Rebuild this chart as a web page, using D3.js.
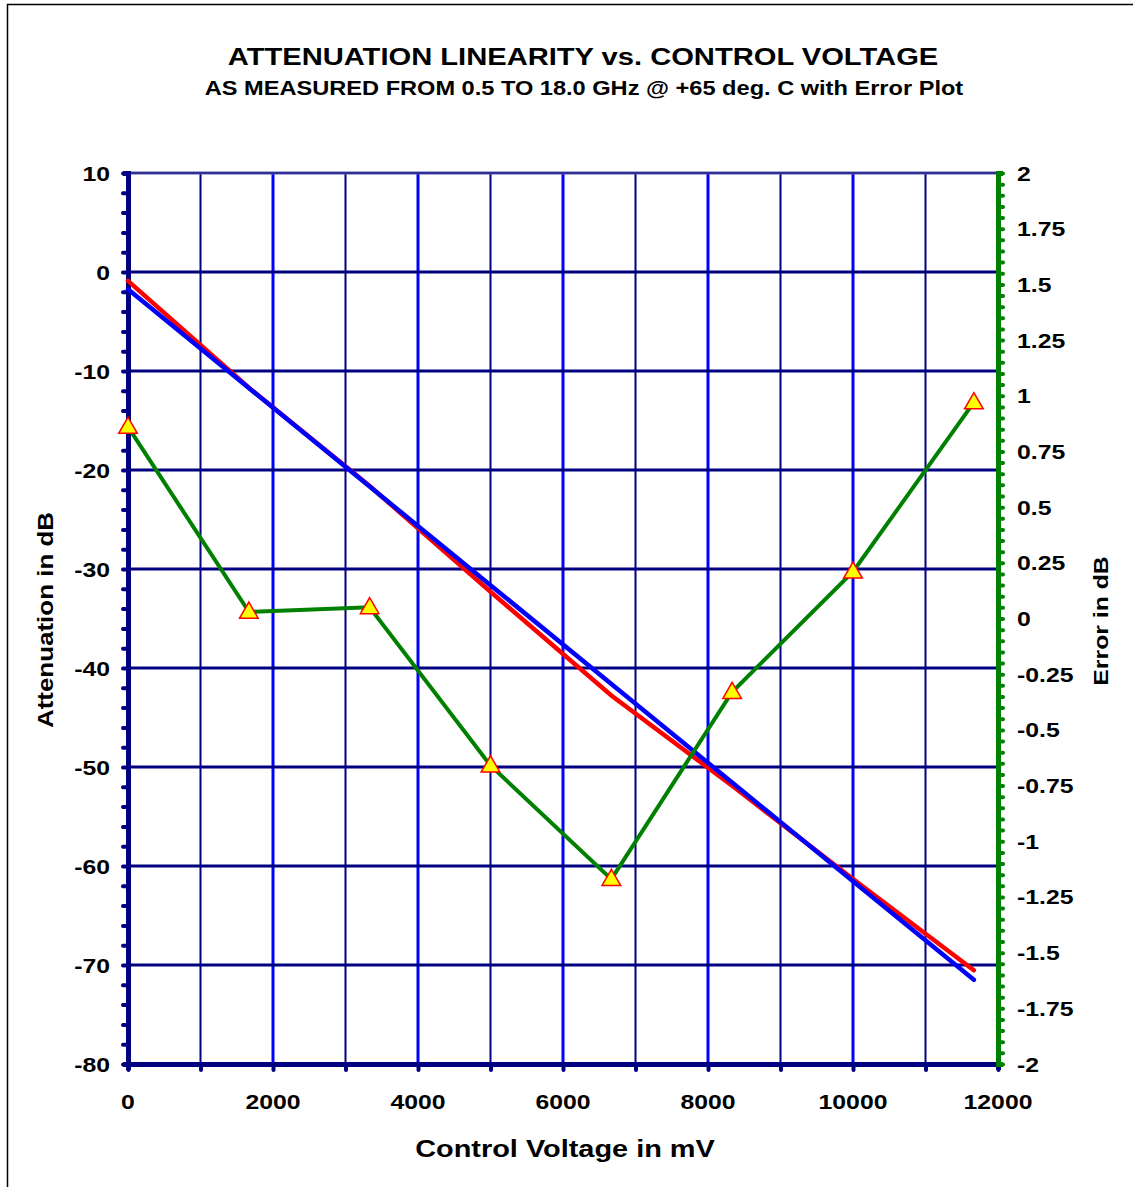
<!DOCTYPE html>
<html>
<head>
<meta charset="utf-8">
<script src="https://cdn.jsdelivr.net/npm/d3@7"></script>
<style>
  html, body { margin: 0; padding: 0; background: #fff; }
  svg text { font-family: "Liberation Sans", Arial, sans-serif; font-weight: bold; fill: #000; }
</style>
</head>
<body>
<svg id="chart" width="1133" height="1187"></svg>
<script>
// Control voltage steps (mV)
const voltage = [0, 1667, 3333, 5000, 6667, 8333, 10000, 11667];
// Measured attenuation (dB)
const measured = [-0.89, -11.69, -21.62, -32.30, -42.78, -51.90, -61.32, -70.53];
// Best-fit straight line (dB)
const fitted = [-1.75, -11.72, -21.67, -31.64, -41.61, -51.57, -61.53, -71.50];
// Linearity error (dB)
const errorDb = [0.86, 0.03, 0.05, -0.66, -1.17, -0.33, 0.21, 0.97];

const xTicks = [0, 2000, 4000, 6000, 8000, 10000, 12000];
const yLeftTicks = [10, 0, -10, -20, -30, -40, -50, -60, -70, -80];
const yRightTicks = [2, 1.75, 1.5, 1.25, 1, 0.75, 0.5, 0.25, 0, -0.25, -0.5, -0.75, -1, -1.25, -1.5, -1.75, -2];

const svg = d3.select("#chart");
const L = 128, R = 998, T = 173, B = 1064;

const x = d3.scaleLinear().domain([0, 12000]).range([L, R]);
const yL = d3.scaleLinear().domain([-80, 10]).range([B, T]);
const yR = d3.scaleLinear().domain([-2, 2]).range([B, T]);

const navy = "#000080";
const SX = 1.18; // horizontal stretch of all lettering

// text helper: wide bold lettering placed at (px, py), optionally rotated
function label(parent, px, py, str, size, anchor, rot) {
  return parent.append("text")
    .attr("transform", `translate(${px},${py})` + (rot ? ` rotate(${rot})` : "") + ` scale(${SX},1)`)
    .attr("text-anchor", anchor).attr("font-size", size).text(str);
}

// outer frame
svg.append("rect").attr("x", 7.5).attr("y", 4.5).attr("width", 1140).attr("height", 1200)
  .attr("fill", "none").attr("stroke", "#000").attr("stroke-width", 1.5);

// titles
label(svg, 583, 65, "ATTENUATION LINEARITY vs. CONTROL VOLTAGE", 24.7, "middle");
label(svg, 584, 95, "AS MEASURED FROM 0.5 TO 18.0 GHz @ +65 deg. C with Error Plot", 20, "middle");

// vertical grid: thin navy every odd thousand, bright blue every 2000
const vMinor = d3.range(1000, 12000, 2000);
svg.append("g").selectAll("line").data(vMinor).join("line")
  .attr("x1", d => x(d)).attr("x2", d => x(d)).attr("y1", T).attr("y2", B)
  .attr("stroke", navy).attr("stroke-width", 2);
svg.append("g").selectAll("line").data(xTicks.filter(d => d > 0 && d < 12000)).join("line")
  .attr("x1", d => x(d)).attr("x2", d => x(d)).attr("y1", T).attr("y2", B)
  .attr("stroke", "#0000ff").attr("stroke-width", 3);

// horizontal grid
svg.append("g").selectAll("line").data(yLeftTicks.filter(d => d > -80 && d < 10)).join("line")
  .attr("x1", L).attr("x2", R).attr("y1", d => yL(d)).attr("y2", d => yL(d))
  .attr("stroke", navy).attr("stroke-width", 3);
// top gridline (double)
svg.append("line").attr("x1", L).attr("x2", R).attr("y1", T).attr("y2", T)
  .attr("stroke", "#5c5caa").attr("stroke-width", 3);
svg.append("line").attr("x1", L).attr("x2", R).attr("y1", T).attr("y2", T)
  .attr("stroke", navy).attr("stroke-width", 1);

// bottom axis
const xAxis = d3.axisBottom(x).tickValues(d3.range(0, 12001, 1000)).tickSize(6).tickFormat("");
const gx = svg.append("g").attr("transform", `translate(0,${B})`).call(xAxis);
gx.select(".domain").attr("stroke", navy).attr("stroke-width", 5);
gx.selectAll(".tick line").attr("stroke", navy).attr("stroke-width", 4).attr("stroke-linecap", "round");
const gxl = svg.append("g");
xTicks.forEach(d => label(gxl, x(d), B + 45, d, 21, "middle"));

// left axis
const yAxisL = d3.axisLeft(yL).tickValues(d3.range(-80, 10.01, 2)).tickSize(5).tickFormat("");
const gl = svg.append("g").attr("transform", `translate(${L},0)`).call(yAxisL);
gl.select(".domain").attr("stroke", navy).attr("stroke-width", 5);
gl.selectAll(".tick line").attr("stroke", navy).attr("stroke-width", 4).attr("stroke-linecap", "round");
const gll = svg.append("g");
yLeftTicks.forEach(d => label(gll, 110, yL(d) + 7.5, d, 21, "end"));

// right axis
const yAxisR = d3.axisRight(yR).tickValues(d3.range(-2, 2.001, 0.05)).tickSize(5).tickFormat("");
const gr = svg.append("g").attr("transform", `translate(${R},0)`).call(yAxisR);
gr.select(".domain").attr("stroke", "#008000").attr("stroke-width", 5);
gr.selectAll(".tick line").attr("stroke", "#008000").attr("stroke-width", 4).attr("stroke-linecap", "round");
const grl = svg.append("g");
yRightTicks.forEach(d => label(grl, 1017, yR(d) + 7.5, d, 21, "start"));

// axis titles
label(svg, 565, 1157, "Control Voltage in mV", 24.5, "middle");
label(svg, 53, 620, "Attenuation in dB", 22, "middle", -90);
label(svg, 1108, 621, "Error in dB", 21, "middle", -90);

// series
const lineL = d3.line().x((d, i) => x(voltage[i])).y(d => yL(d));
const lineR = d3.line().x((d, i) => x(voltage[i])).y(d => yR(d));

svg.append("path").datum(measured).attr("d", lineL).attr("fill", "none")
  .attr("stroke", "#ff0000").attr("stroke-width", 4.5).attr("stroke-linecap", "round");
svg.append("path").datum(fitted).attr("d", lineL).attr("fill", "none")
  .attr("stroke", "#0000ff").attr("stroke-width", 4.5).attr("stroke-linecap", "round");
svg.append("path").datum(errorDb).attr("d", lineR).attr("fill", "none")
  .attr("stroke", "#008000").attr("stroke-width", 4);

const tri = d3.symbol().type(d3.symbolTriangle).size(150);
svg.append("g").selectAll("path").data(errorDb).join("path")
  .attr("transform", (d, i) => `translate(${x(voltage[i])},${yR(d) + 1})`)
  .attr("d", tri).attr("fill", "#ffff00").attr("stroke", "#ff0000").attr("stroke-width", 1.5);
</script>
</body>
</html>
